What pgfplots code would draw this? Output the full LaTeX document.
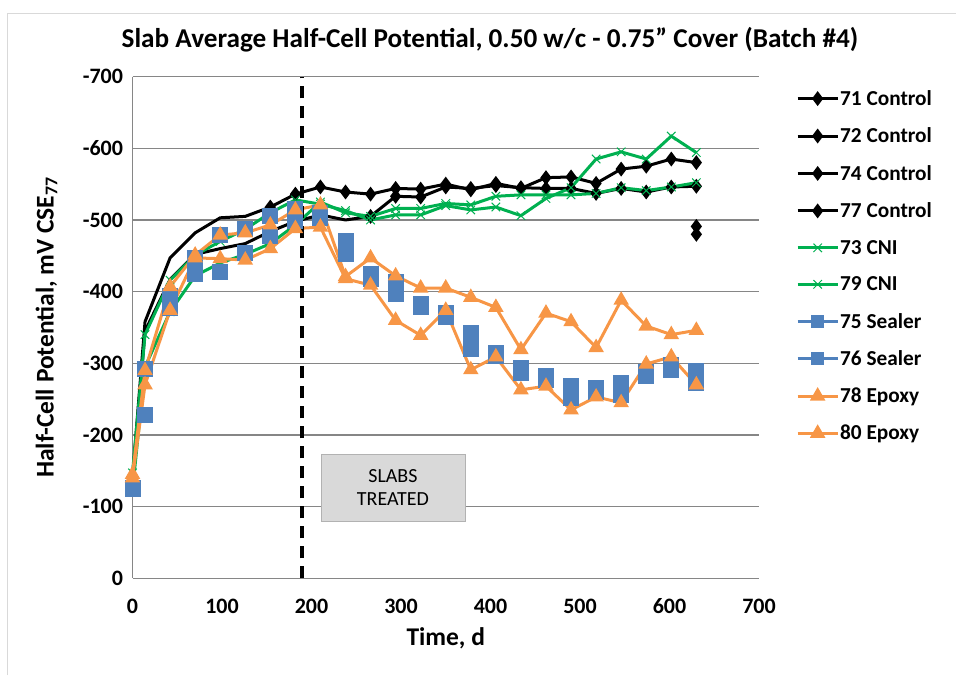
\documentclass[border=0pt]{standalone}
\usepackage{fontspec}
\setmainfont{Carlito}
\usepackage{pgfplots}
\usepackage{pgfplotstable}
\pgfplotsset{compat=1.18}

\definecolor{ctrl}{RGB}{0,0,0}
\definecolor{cni}{RGB}{0,176,80}
\definecolor{sealer}{RGB}{79,129,189}
\definecolor{epoxy}{RGB}{247,150,70}
\definecolor{gridgray}{RGB}{134,134,134}
\definecolor{boxgray}{RGB}{217,217,217}

% half-cell potential, mV CSE (negative), 28-day readings
\pgfplotstableread{
day  c71  c72  g73  g79  b75  b76  o78  o80
0    -140 -135 -147 -122 -126 -124 -145 -140
14   -358 -345 -340 -295 -292 -228 -290 -270
42   -447 -417 -416 -372 -394 -377 -407 -374
70   -482 -452 -451 -422 -447 -425 -451 -447
98   -503 -460 -470 -440 -479 -428 -479 -446
126  -505 -467 -487 -452 -488 -454 -482 -444
154  -518 -484 -510 -467 -505 -477 -493 -460
182  -536 -498 -528 -493 -515 -498 -514 -488
210  -546 -507 -522 -525 -510 -503 -521 -490
238  -539 -500 -513 -510 -470 -452 -421 -418
266  -536 -505 -500 -505 -424 -418 -447 -409
294  -544 -533 -507 -516 -413 -396 -422 -360
322  -543 -532 -507 -516 -383 -378 -405 -339
350  -550 -546 -520 -523 -370 -364 -405 -374
378  -542 -544 -514 -521 -342 -320 -392 -291
406  -551 -548 -518 -533 -315 -310 -378 -309
434  -544 -545 -506 -535 -293 -286 -319 -263
462  -559 -544 -530 -535 -282 -276 -370 -268
490  -560 -544 -545 -535 -269 -252 -358 -235
518  -551 -537 -585 -537 -266 -260 -322 -253
546  -571 -544 -595 -545 -273 -256 -388 -245
574  -575 -539 -585 -541 -288 -282 -352 -299
602  -585 -546 -617 -546 -297 -290 -340 -309
630  -580 -547 -594 -552 -289 -272 -346 -270
}\slabdata

\begin{document}
\begin{tikzpicture}[x=1pt,y=1pt]
\useasboundingbox (0,0) rectangle (956,675);
\draw[boxgray, line width=1pt] (7,0) -- (7,661) -- (956,661);
\node[font=\fontsize{27.2}{31}\selectfont\bfseries] at (490,635)
  {Slab Average Half-Cell Potential, 0.50 w/c - 0.75" Cover (Batch \#4)};
\begin{axis}[
  at={(132.5pt,96.7pt)}, anchor=south west,
  scale only axis, width=626.5pt, height=501.7pt,
  xmin=0, xmax=700, ymin=-700, ymax=0, y dir=reverse,
  xtick={0,100,...,700}, ytick={-700,-600,...,0},
  axis line style={draw=none},
  ymajorgrids, grid style={gridgray, line width=1.5pt},
  extra x ticks={0}, extra x tick labels={},
  extra x tick style={grid=major},
  major tick length=0pt,
  tick label style={font=\fontsize{22}{26}\selectfont\bfseries},
  /pgf/number format/assume math mode=true,
  xticklabel style={yshift=-17pt},
  yticklabel style={xshift=-6pt},
  every axis x label/.style={at={(axis description cs:0.5,0)}, anchor=center, yshift=-60pt},
  every axis y label/.style={at={(axis description cs:0,0.5)}, xshift=-86pt, rotate=90, anchor=center},
  xlabel={Time, d},
  ylabel={Half-Cell Potential, mV CSE\textsubscript{77}},
  label style={font=\fontsize{25.5}{29}\selectfont\bfseries},
  legend style={at={(1.059,0.975)}, anchor=north west, draw=none, fill=none,
    font=\fontsize{21.3}{25}\selectfont\bfseries, row sep=19pt,
    inner sep=0pt, nodes={inner sep=1pt}},
  legend cell align=left,
  legend image code/.code={\draw[mark repeat=2,mark phase=2]
    plot coordinates {(0pt,0pt) (20pt,0pt) (40pt,0pt)};},
  clip=false,
]
\addplot[ctrl, line width=3pt, mark=diamond*, mark size=5pt, mark indices={7,...,24},
  legend image post style={mark indices={2}}]
  table[x=day,y=c71] {\slabdata};
\addlegendentry{71 Control}
\addplot[ctrl, line width=3pt, mark=diamond*, mark size=5pt, mark indices={11,...,24},
  legend image post style={mark indices={2}}]
  table[x=day,y=c72] {\slabdata};
\addlegendentry{72 Control}
\addplot[ctrl, line width=3pt, mark=diamond*, mark size=5pt]
  coordinates {(630,-491)};
\addlegendentry{74 Control}
\addplot[ctrl, line width=3pt, mark=diamond*, mark size=5pt]
  coordinates {(630,-480)};
\addlegendentry{77 Control}
\addplot[cni, line width=3pt, mark=x, mark size=6pt, mark options={line width=1pt}]
  table[x=day,y=g73] {\slabdata};
\addlegendentry{73 CNI}
\addplot[cni, line width=3pt, mark=x, mark size=6pt, mark options={line width=1pt}]
  table[x=day,y=g79] {\slabdata};
\addlegendentry{79 CNI}
\addplot[sealer, line width=3pt, only marks, mark=square*, mark size=6.5pt,
  legend image post style={sharp plot, mark size=5pt}]
  table[x=day,y=b75] {\slabdata};
\addlegendentry{75 Sealer}
\addplot[sealer, line width=3pt, only marks, mark=square*, mark size=6.5pt,
  legend image post style={sharp plot, mark size=5pt}]
  table[x=day,y=b76] {\slabdata};
\addlegendentry{76 Sealer}
\addplot[epoxy, line width=3pt, mark=triangle*, mark size=6pt]
  table[x=day,y=o78] {\slabdata};
\addlegendentry{78 Epoxy}
\addplot[epoxy, line width=3pt, mark=triangle*, mark size=6pt]
  table[x=day,y=o80] {\slabdata};
\addlegendentry{80 Epoxy}
\draw[black, line width=4pt, dash pattern=on 12pt off 8pt]
  (axis cs:189,0) -- (axis cs:189,-700);
\node[draw=gray!60, fill=boxgray, minimum width=144pt, minimum height=67pt,
  align=center, font=\fontsize{20}{23}\selectfont]
  at (axis cs:291,-126) {SLABS\\TREATED};
\end{axis}
\end{tikzpicture}
\end{document}
